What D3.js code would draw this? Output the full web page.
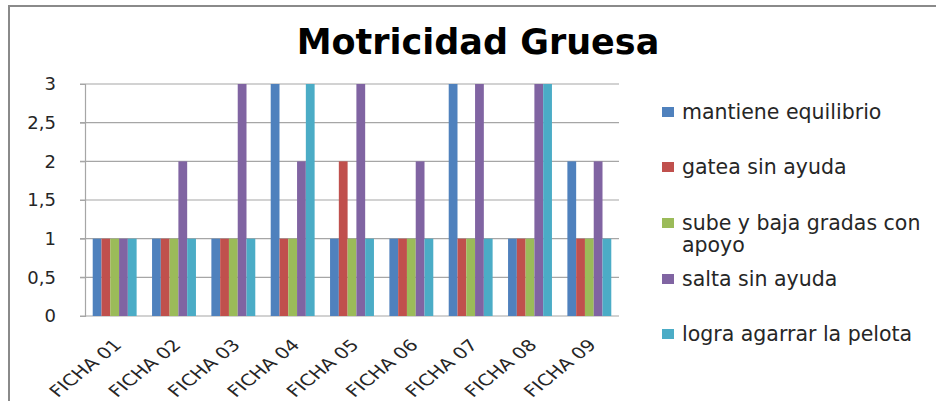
<!DOCTYPE html>
<html>
<head>
<meta charset="utf-8">
<script src="https://cdn.jsdelivr.net/npm/d3@7"></script>
<style>
body { margin: 0; background: #fff; }
text { font-family: "DejaVu Sans", sans-serif; fill: #262626; }
</style>
</head>
<body>
<script>
// data
var fichas = ['FICHA 01','FICHA 02','FICHA 03','FICHA 04','FICHA 05','FICHA 06','FICHA 07','FICHA 08','FICHA 09']
var series = ['mantiene equilibrio','gatea sin ayuda','sube y baja gradas con apoyo','salta sin ayuda','logra agarrar la pelota']
var mantiene = [1,1,1,3,1,1,3,1,2]
var gatea    = [1,1,1,1,2,1,1,1,1]
var sube     = [1,1,1,1,1,1,1,1,1]
var salta    = [1,2,3,2,3,2,3,3,2]
var logra    = [1,1,1,3,1,1,1,3,1]
var yTicks = [0,0.5,1,1.5,2,2.5,3]
var colors = ['#4F81BD','#C0504D','#9BBB59','#8064A2','#4BACC6']

function plot_it() {
	var values = [mantiene, gatea, sube, salta, logra]

	var width = 936, height = 401
	var plotLeft = 85, plotRight = 619, plotTop = 84, plotBottom = 316

	var svg = d3.select('body').append('svg').attr('width', width).attr('height', height)

	// outer chart frame (cut off at right and bottom)
	svg.append('rect').attr('x', 9).attr('y', 6).attr('width', 1000).attr('height', 1000)
		.attr('fill', 'none').attr('stroke', '#8a8a8a').attr('stroke-width', 2)

	svg.append('text').attr('x', 478).attr('y', 54).attr('text-anchor', 'middle')
		.style('font-size', '35px').style('font-weight', 'bold').style('fill', '#000')
		.text('Motricidad Gruesa')

	var x = d3.scaleBand().domain(fichas).range([plotLeft, plotRight]).paddingInner(0.26).paddingOuter(0.13)
	var xs = d3.scaleBand().domain(series).range([0, x.bandwidth()])
	var y = d3.scaleLinear().domain([0, 3]).range([plotBottom, plotTop])

	// grid
	svg.append('g').selectAll('line').data(yTicks).enter().append('line')
		.attr('x1', plotLeft - 5).attr('x2', plotRight)
		.attr('y1', function(d){ return y(d) }).attr('y2', function(d){ return y(d) })
		.attr('stroke', '#a6a6a6').attr('stroke-width', 1.2)

	// y axis
	var yAxis = svg.append('g').attr('transform', 'translate(' + plotLeft + ',0)')
		.call(d3.axisLeft(y).tickValues(yTicks).tickSize(5).tickPadding(24)
			.tickFormat(function(d){ return String(d).replace('.', ',') }))
	yAxis.select('.domain').attr('stroke', '#a6a6a6').attr('stroke-width', 1.2)
	yAxis.selectAll('.tick line').attr('stroke', '#a6a6a6')
	yAxis.selectAll('text').style('font-size', '18px').style('fill', '#262626').attr('font-family', null)

	// bars
	var groups = svg.append('g').selectAll('g').data(fichas).enter().append('g')
		.attr('transform', function(d){ return 'translate(' + x(d) + ',0)' })
	groups.selectAll('rect').data(function(d, i){
			return series.map(function(s, j){ return {s: s, v: values[j][i], c: colors[j]} })
		}).enter().append('rect')
		.attr('x', function(d){ return xs(d.s) })
		.attr('width', xs.bandwidth())
		.attr('y', function(d){ return y(d.v) })
		.attr('height', function(d){ return y(0) - y(d.v) })
		.attr('fill', function(d){ return d.c })

	// x labels, rotated
	svg.append('g').selectAll('text').data(fichas).enter().append('text')
		.attr('transform', function(d){ return 'translate(' + (x(d) + x.bandwidth() / 2 + 8) + ',' + (plotBottom + 30) + ') scale(1.25,1) rotate(-45)' })
		.attr('text-anchor', 'end')
		.style('font-size', '16px')
		.text(function(d){ return d })

	// legend
	var legendY = [112, 167, 223, 279, 334]
	var legend = svg.append('g').selectAll('g').data(series).enter().append('g')
		.attr('transform', function(d, i){ return 'translate(662,' + legendY[i] + ')' })
	legend.append('rect').attr('x', 0).attr('y', -5).attr('width', 12).attr('height', 10)
		.attr('fill', function(d, i){ return colors[i] })
	legend.append('text').attr('x', 20).attr('y', 7).style('font-size', '20.5px')
		.each(function(d){
			var t = d3.select(this)
			var lines = d == 'sube y baja gradas con apoyo' ? ['sube y baja gradas con', 'apoyo'] : [d]
			lines.forEach(function(l, k){
				t.append('tspan').attr('x', 20).attr('dy', k == 0 ? 0 : 22).text(l)
			})
		})
}

plot_it()
</script>
</body>
</html>
